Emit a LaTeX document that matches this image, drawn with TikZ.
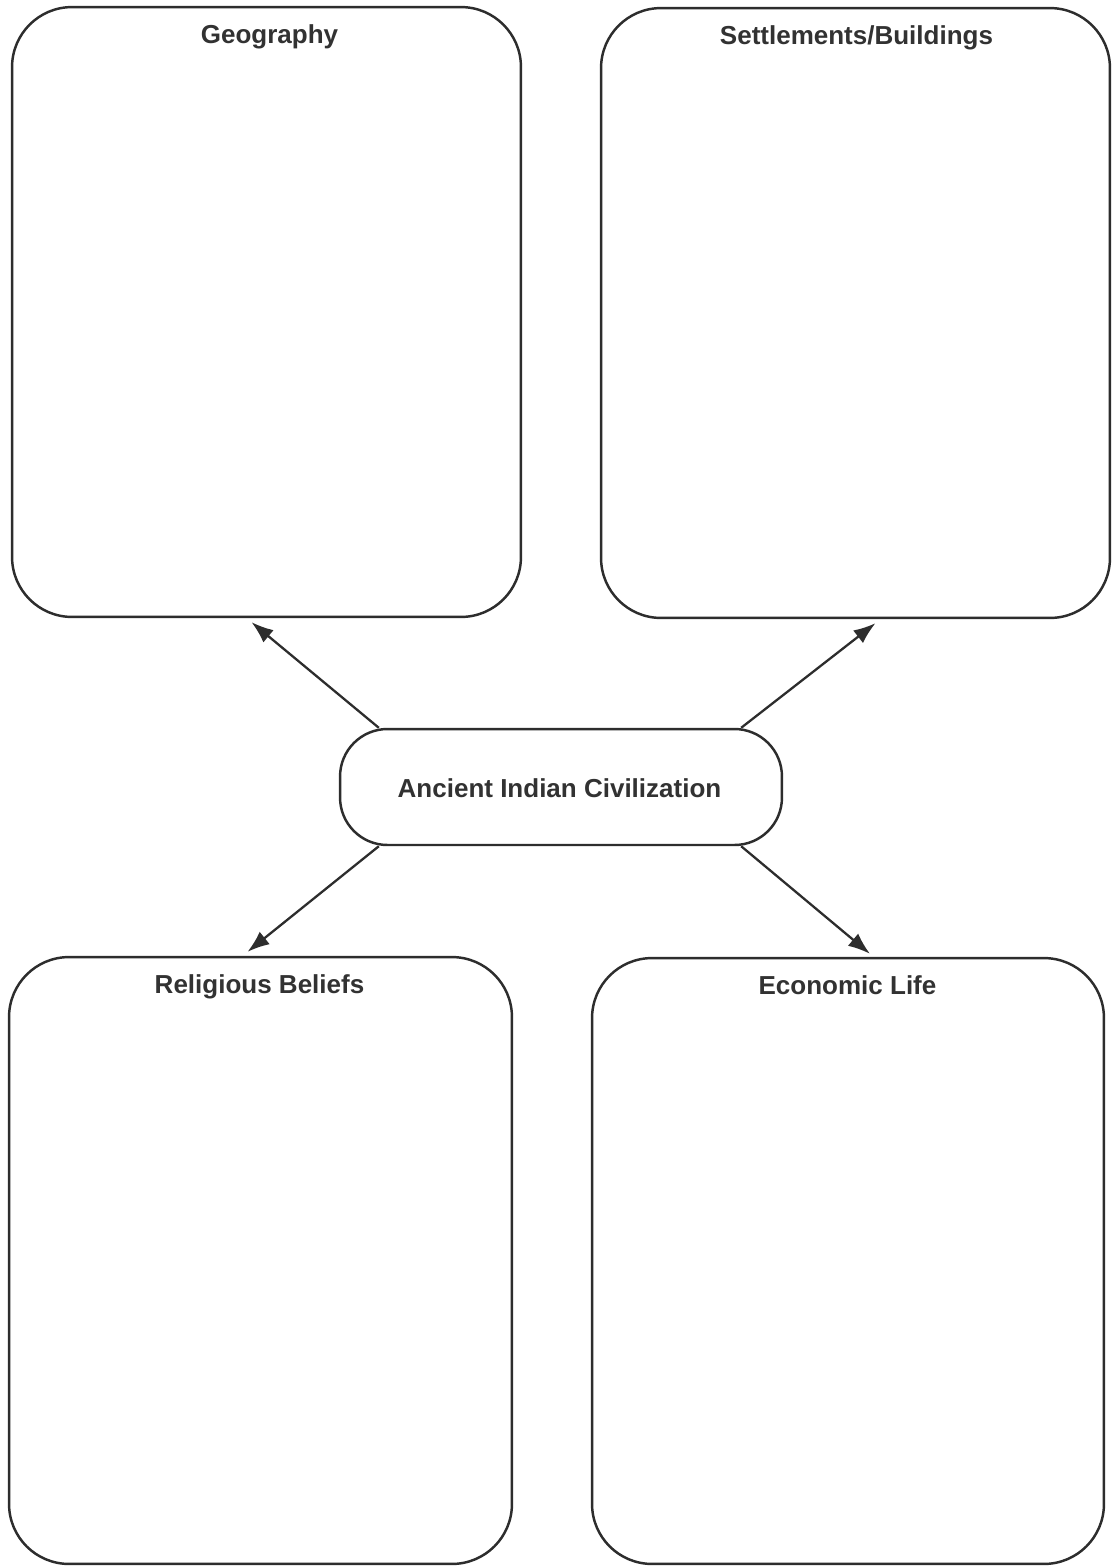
\documentclass[tikz,border=0pt]{standalone}
\usepackage{fontspec}
\setmainfont{Liberation Sans}
\usepackage{xcolor}
\usepackage{tikz}
\usetikzlibrary{positioning,arrows.meta,calc}
\definecolor{ink}{RGB}{45,45,45}
\definecolor{txtclr}{RGB}{50,50,50}
\tikzset{
    topic/.style={rectangle,draw=ink,line width=1.4pt,rounded corners=1.2cm,
                  inner sep=0pt},
    hub/.style={rectangle,draw=ink,line width=1.4pt,rounded corners=0.95cm,
                minimum width=8.84cm,minimum height=2.32cm,inner sep=0pt,
                font=\fontsize{14.8}{17}\selectfont\bfseries,text=txtclr},
    title/.style={anchor=base,inner sep=0pt,text=txtclr,
                  font=\fontsize{14.8}{17}\selectfont\bfseries},
    edge/.style={-{Latex[length=4.4mm,width=3.2mm]},line width=1.3pt,draw=ink},
}
\begin{document}
\begin{tikzpicture}[x=0.02cm,y=-0.02cm]
\useasboundingbox[fill=white] (0,0) rectangle (1114,1566);

\node[topic,minimum width=10.18cm,minimum height=12.2cm]  (geo)  at (266.5,312) {};
\node[topic,minimum width=10.18cm,minimum height=12.2cm]  (set)  at (855.5,313) {};
\node[topic,minimum width=10.06cm,minimum height=12.14cm] (rel)  at (260.5,1260.5) {};
\node[topic,minimum width=10.24cm,minimum height=12.12cm] (eco)  at (848,1261) {};
\node[hub] (civ) at (561,787) {};

\node[title] (geoT) at (269.5,43)  {Geography};
\node[title] (setT) at (856.5,44)  {Settlements/Buildings};
\node[title] (relT) at (259.5,993) {Religious Beliefs};
\node[title] (ecoT) at (847.5,994) {Economic Life};
\node[title] (civT) at (559.5,797) {Ancient Indian Civilization};

\draw[edge] ($(civ.north west)+(40,0)$)  -- ($(geo.south)+(-15,4)$);
\draw[edge] ($(civ.north east)+(-42,0)$) -- ($(set.south)+(20,4)$);
\draw[edge] ($(civ.south west)+(40,0)$)  -- ($(rel.north)+(-13,-4)$);
\draw[edge] ($(civ.south east)+(-42,0)$) -- ($(eco.north)+(22,-3)$);
\end{tikzpicture}
\end{document}
